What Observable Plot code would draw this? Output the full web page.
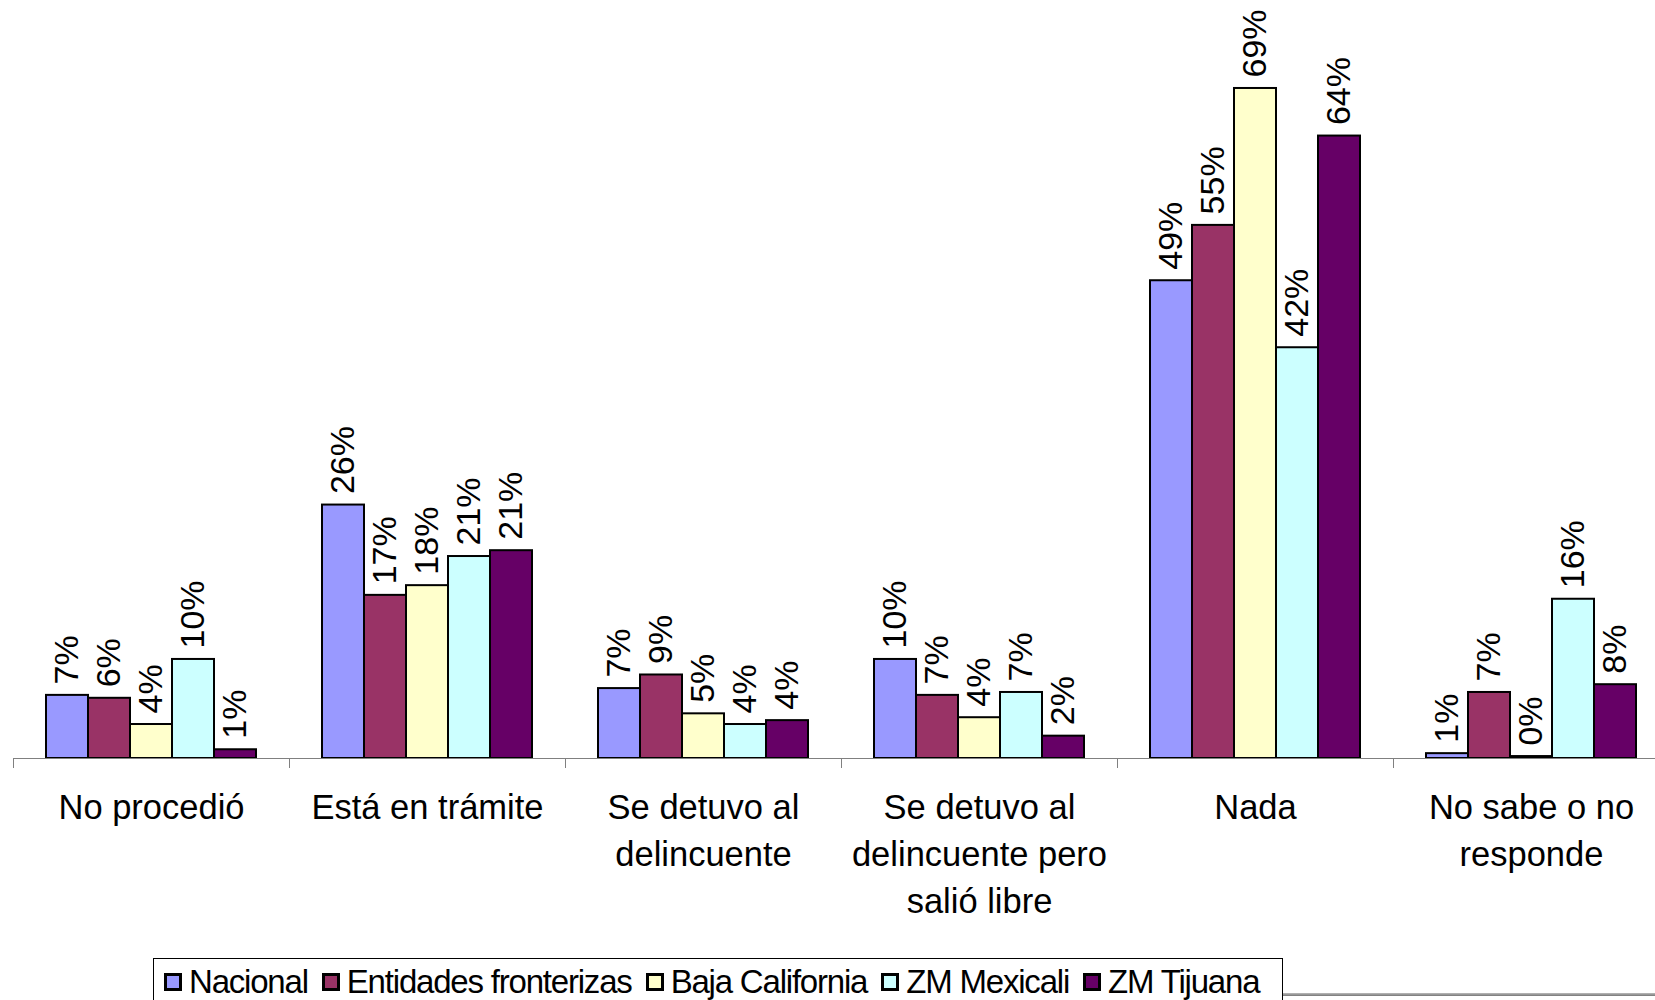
<!DOCTYPE html>
<html>
<head>
<meta charset="utf-8">
<script src="https://cdn.jsdelivr.net/npm/d3@7"></script>
<script src="https://cdn.jsdelivr.net/npm/@observablehq/plot@0.6"></script>
<style>
  html, body { margin: 0; padding: 0; background: #fff; overflow: hidden; }
  body { width: 1655px; height: 1000px; position: relative; font-family: "Liberation Sans", Arial, sans-serif; }
  #chart { position: absolute; left: 0; top: 0; }
  #legend { position: absolute; left: 153px; top: 958px; width: 1130px; height: 60px; border: 1px solid #000; background: #fff;
            font-size: 33px; line-height: 33px; letter-spacing: -1.2px; white-space: nowrap; padding-left: 10px; box-sizing: border-box; padding-top: 6px; }
  #legend span.item { margin-right: 14px; }
  #legend span.sw { display: inline-block; width: 18px; height: 18px; border: 3px solid #000; margin-right: 7px; margin-bottom: 2px; vertical-align: baseline; box-sizing: border-box;}
  #shadow { position: absolute; left: 1283px; top: 993px; width: 372px; height: 3px; background: linear-gradient(#bbb, #777); }
</style>
</head>
<body>
<div id="chart"></div>
<div id="shadow"></div>
<div id="legend"></div>
<script>
const categories = ["No procedió", "Está en trámite", "Se detuvo al delincuente", "Se detuvo al delincuente pero salió libre", "Nada", "No sabe o no responde"];
const tickLabels = ["No procedió", "Está en trámite", "Se detuvo al\ndelincuente", "Se detuvo al\ndelincuente pero\nsalió libre", "Nada", "No sabe o no\nresponde"];
const series = ["Nacional", "Entidades fronterizas", "Baja California", "ZM Mexicali", "ZM Tijuana"];
const colors = ["#9999FF", "#993366", "#FFFFCC", "#CCFFFF", "#660066"];
const nacional   = [6.5, 26.1, 7.2, 10.2, 49.2, 0.5];
const entidades  = [6.2, 16.8, 8.6, 6.5, 54.9, 6.8];
const bajaCalif  = [3.5, 17.8, 4.6, 4.2, 69.0, 0.2];
const zmMexicali = [10.2, 20.8, 3.5, 6.8, 42.3, 16.4];
const zmTijuana  = [0.9, 21.4, 3.9, 2.3, 64.1, 7.6];

const seriesValues = [nacional, entidades, bajaCalif, zmMexicali, zmTijuana];
const data = [];
categories.forEach((c, i) => series.forEach((s, j) => data.push({cat: c, series: s, value: seriesValues[j][i]})));
const labelData = categories.map((c, i) => ({cat: c, label: tickLabels[i]}));

const plot = Plot.plot({
  width: 1655,
  height: 940,
  marginLeft: 13,
  marginRight: -14,
  marginTop: 0,
  marginBottom: 182,
  style: {fontFamily: "Liberation Sans, Arial, sans-serif", color: "#000", background: "transparent"},
  fx: {domain: categories, paddingInner: 0.225, paddingOuter: 0.1125, axis: null},
  x: {domain: series, padding: 0, axis: null},
  y: {domain: [0, 78.06], axis: null},
  color: {domain: series, range: colors},
  marks: [
    Plot.barY(data, {fx: "cat", x: "series", y: "value", fill: "series", stroke: "#000", strokeWidth: 2, inset: 0}),
    Plot.text(data, {fx: "cat", x: "series", y: "value", text: d => Math.round(d.value) + "%", rotate: -90, textAnchor: "start", dy: -11, fontSize: 34, fill: "#000"}),
    Plot.text(labelData, {fx: "cat", frameAnchor: "bottom", text: "label", lineAnchor: "top", dy: 27, fontSize: 34.5, lineHeight: 1.36, fill: "#000"})
  ]
});
document.getElementById("chart").appendChild(plot);

// baseline and category-boundary ticks derived from the scales
const fx = plot.scale("fx");
const yS = plot.scale("y");
const y0 = yS.apply(0);
const gap = fx.step - fx.bandwidth;
const bounds = categories.map(c => fx.apply(c) - gap / 2);
bounds.push(fx.apply(categories[categories.length - 1]) + fx.bandwidth + gap / 2);
const svg = d3.select(plot);
const g = svg.append("g").attr("stroke", "#808080").attr("stroke-width", 1);
g.append("line").attr("x1", bounds[0]).attr("x2", 1655).attr("y1", y0 + 0.5).attr("y2", y0 + 0.5);
bounds.forEach(b => g.append("line").attr("x1", Math.round(b) + 0.5).attr("x2", Math.round(b) + 0.5).attr("y1", y0).attr("y2", y0 + 10));

// legend
const leg = document.getElementById("legend");
series.forEach((s, i) => {
  const item = document.createElement("span");
  item.className = "item";
  const sw = document.createElement("span");
  sw.className = "sw";
  sw.style.background = colors[i];
  item.appendChild(sw);
  item.appendChild(document.createTextNode(s));
  leg.appendChild(item);
});
</script>
</body>
</html>
